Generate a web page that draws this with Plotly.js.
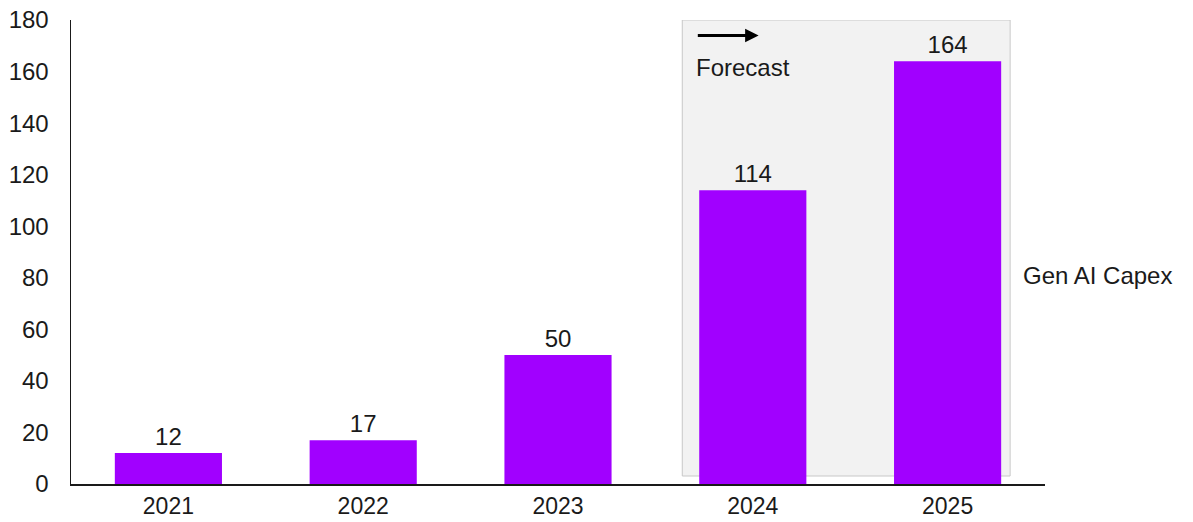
<!DOCTYPE html>
<html><head><meta charset="utf-8">
<script src="https://cdn.plot.ly/plotly-3.0.1.min.js"></script>
<style>html,body{margin:0;padding:0;background:#fff}#c{width:1193px;height:522px}</style>
</head><body><div id="c"></div>
<script>
const years = ['2021','2022','2023','2024','2025'];
const capex = [12, 17, 50, 114, 164];
const seriesName = 'Gen AI Capex';
const yTicks = [0,20,40,60,80,100,120,140,160,180];

const font = {family: '"Liberation Sans", Arial, sans-serif', size: 24, color: '#1a1a1a'};
const xfont = {family: '"Liberation Sans", Arial, sans-serif', size: 23, color: '#1a1a1a'};

const trace = {
  type: 'bar', x: years, y: capex, name: seriesName,
  marker: {color: '#A100FF'}, width: 0.55,
  text: capex.map(String), textposition: 'outside', cliponaxis: false,
  textfont: font, hoverinfo: 'none'
};

const layout = {
  width: 1193, height: 522,
  margin: {l: 71, r: 148, t: 20, b: 38},
  paper_bgcolor: '#fff', plot_bgcolor: 'rgba(0,0,0,0)',
  font: font, showlegend: false,
  xaxis: {type: 'category', range: [-0.5, 4.5], showline: true, linecolor: '#1a1a1a', linewidth: 1.5,
          ticks: '', showgrid: false, tickfont: xfont, ticklabelstandoff: 1},
  yaxis: {range: [0, 180], tickvals: yTicks, showline: true, linecolor: '#1a1a1a', linewidth: 1.5,
          ticks: '', showgrid: false, zeroline: false, tickfont: font, ticklabelstandoff: 16},
  shapes: [{type: 'rect', xref: 'x', yref: 'y', x0: 2.638, x1: 4.321, y0: 3.1, y1: 180,
            fillcolor: '#f2f2f2', line: {color: '#c8c8c8', width: 1}, layer: 'below'}],
  annotations: [
    {xref: 'x', yref: 'y', x: 3.03, y: 174, ax: 2.71, ay: 174, axref: 'x', ayref: 'y',
     showarrow: true, arrowhead: 2, arrowsize: 0.9, arrowwidth: 3, arrowcolor: '#000', text: ''},
    {xref: 'x', yref: 'y', x: 2.70, y: 161.5, text: 'Forecast', showarrow: false, xanchor: 'left', yanchor: 'middle', font: font},
    {xref: 'paper', yref: 'y', x: 1, xshift: -24, y: 81, text: seriesName, showarrow: false, xanchor: 'left', yanchor: 'middle', font: font}
  ]
};
Plotly.newPlot('c', [trace], layout, {displayModeBar: false, staticPlot: true});
</script></body></html>
